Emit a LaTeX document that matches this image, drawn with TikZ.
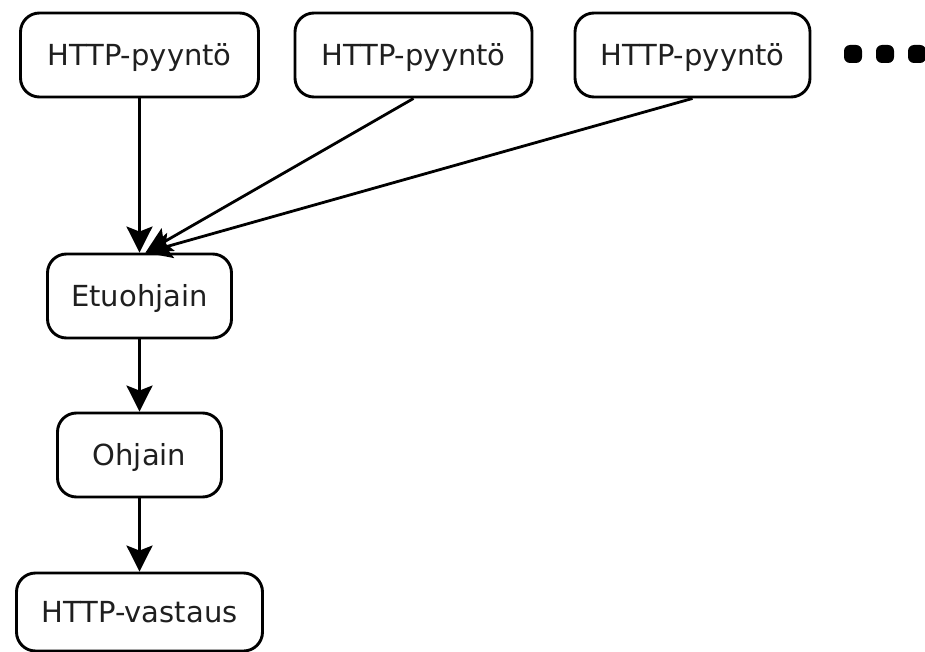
\documentclass[tikz,border=0pt]{standalone}
\usepackage{fontspec}
\setmainfont{DejaVu Sans}
\usetikzlibrary{arrows.meta}
\begin{document}
\begin{tikzpicture}[x=1pt,y=-1pt,
  box/.style={draw, line width=2.9pt, rounded corners=19pt, inner sep=0pt,
    minimum height=84pt, font=\fontsize{29}{34}\selectfont,
    text height=21pt, text depth=0pt, text=black!88, fill=white},
  flow/.style={line width=2.8pt, -{Stealth[length=26pt, width=26pt, inset=5pt]}},
  bullet/.style={fill=black, rounded corners=6pt, minimum size=18pt, inner sep=0pt}]
  \useasboundingbox (0,0) rectangle (925,652);
  % request boxes along the top
  \node[box, minimum width=238pt] (p1) at (139.5,55) {HTTP-pyyntö};
  \node[box, minimum width=237pt] (p2) at (413.5,55) {HTTP-pyyntö};
  \node[box, minimum width=235pt] (p3) at (692.5,55) {HTTP-pyyntö};
  % ellipsis dots
  \node[bullet] (d1) at (853,54) {};
  \node[bullet] (d2) at (885,54) {};
  \node[bullet] (d3) at (917,54) {};
  % processing chain
  \node[box, minimum width=184pt] (etu) at (139.5,296) {Etuohjain};
  \node[box, minimum width=164pt] (ohj) at (139.5,455) {Ohjain};
  \node[box, minimum width=246pt, minimum height=78pt] (vas) at (139.5,612) {HTTP-vastaus};
  % connectors
  \draw[flow] (p1.south) -- (etu.north);
  \draw[flow] (p2.south) -- ([xshift=6pt]etu.north);
  \draw[flow] (p3.south) -- ([xshift=6pt]etu.north);
  \draw[flow] (etu.south) -- (ohj.north);
  \draw[flow] (ohj.south) -- (vas.north);
\end{tikzpicture}
\end{document}
